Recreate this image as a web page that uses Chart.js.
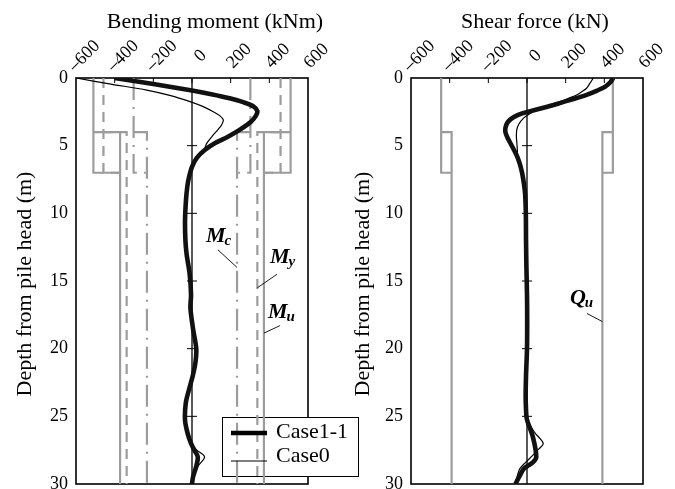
<!DOCTYPE html>
<html><head><meta charset="utf-8">
<script src="https://cdn.jsdelivr.net/npm/chart.js@4"></script>
<style>
html,body{margin:0;padding:0;background:#fff;width:675px;height:489px;overflow:hidden;}
#c1{position:absolute;left:0;top:0;}
#c2{position:absolute;left:340px;top:0;}
</style></head><body>
<canvas id="c1" width="360" height="489"></canvas>
<canvas id="c2" width="335" height="489"></canvas>
<script>
// ---------- data ----------
const xTicks = [-600, -400, -200, 0, 200, 400, 600];
const depthTicks = [0, 5, 10, 15, 20, 25, 30];
const sectionDepths = [4.0, 7.0];           // pile section change (m)
const momentCapNames = ['Mu', 'My', 'Mc'];
const momentCapUpper = [510, 458, 302];     // kNm, upper section
const momentCapLower = [372, 338, 233];     // kNm, lower section
const shearCapNames = ['Qu'];
const shearCapUpper = [444];                // kN
const shearCapLower = [390];                // kN

const momentCase11Depth = [0,0.45,0.89,1.2,1.5,1.8,2.1,2.45,2.8,3.23,3.8,4.34,4.8,5.32,5.9,6.56,7.3,8.0,9.0,10.5,12,13,14.5,16,17,18.5,20,21,22,23,24,25.3,26.3,27,27.5,28,28.7,29.5,30];
const momentCase11 = [-400,-200,-15,100,195,268,318,338,330,305,250,186,120,66,25,0,-15,-24,-31,-36,-34,-28,-12,-5,-8,5,22,18,4,-15,-32,-36,-22,-5,12,30,22,5,0];
const momentCase0Depth = [0,0.45,0.89,1.3,1.75,2.1,2.49,2.8,3.1,3.47,3.85,4.21,4.83,5.32,5.9,6.56,7.3,8.0,9.0,10.5,12,13,14.5,16,17,18.5,20,21,22,23,24,25.3,26.3,27,27.5,28,28.7,29.5,30];
const momentCase0 = [-600,-420,-234,-110,-10,55,110,145,162,153,132,110,76,62,25,0,-15,-24,-31,-36,-34,-28,-12,-5,-8,5,22,18,4,-15,-32,-36,-22,-5,25,65,30,5,0];

const shearCase11Depth = [0,0.3,0.64,0.95,1.26,1.63,1.9,2.12,2.35,2.61,2.9,3.23,3.6,3.97,4.35,4.71,5.3,5.82,6.4,7.04,7.8,8.52,10,12,14,16,18,20,22,23.5,24.5,25.2,26.5,28.0,28.4,28.85,29.4,30];
const shearCase11 = [446,432,405,360,305,222,160,105,45,-25,-70,-98,-110,-112,-103,-90,-68,-50,-36,-25,-16,-10,-6,-5,-3,0,1,0,-5,-7,-5,-1,30,48,30,-15,-38,-60];
const shearCase0Depth = [0,0.4,0.76,1.0,1.26,1.5,1.75,2.05,2.37,2.68,2.98,3.4,3.84,4.3,4.71,5.3,5.82,6.4,7.04,7.8,8.52,10,12,14,16,18,20,22,23.5,24.5,25.2,26.2,27.0,27.5,28.1,28.85,29.4,30];
const shearCase0 = [343,325,308,285,257,215,170,110,50,10,-19,-42,-53,-55,-53,-50,-48,-36,-25,-16,-10,-6,-5,-3,0,1,0,-5,-7,-5,-1,40,84,55,15,-36,-50,-62];

const seriesLabels = ['Case1-1', 'Case0'];

// ---------- helpers ----------
const SERIF = '"Liberation Serif", "Times New Roman", serif';
Chart.defaults.font.family = SERIF;
Chart.defaults.color = '#000';
const GRAY = '#9c9c9c';
const capStyle = {
  Mu: [], My: [10, 7], Mc: [22, 7, 2, 7], Qu: []
};

function pts(depths, vals) { return depths.map((d, i) => ({x: vals[i], y: d})); }

function curveSets(d11, v11, d0, v0) {
  return [
    {label: seriesLabels[0], data: pts(d11, v11), borderColor: '#111', borderWidth: 4.6, tension: 0.3},
    {label: seriesLabels[1], data: pts(d0, v0), borderColor: '#000', borderWidth: 1.2, tension: 0.3}
  ];
}

function capSets(names, upper, lower) {
  const out = [];
  const [dA, dB] = sectionDepths;
  names.forEach((n, i) => {
    [-1, 1].forEach(s => {
      const u = s * upper[i], l = s * lower[i];
      const common = {label: n, borderColor: GRAY, borderWidth: 2.2, borderDash: capStyle[n], tension: 0};
      out.push(Object.assign({data: [{x: u, y: 0}, {x: u, y: dB}, {x: l, y: dB}]}, common));
      out.push(Object.assign({data: [{x: u, y: dA}, {x: l, y: dA}, {x: l, y: depthTicks[depthTicks.length - 1]}]}, common));
    });
  });
  return out;
}

function zeroSet() {
  return {label: 'zero', data: [{x: 0, y: depthTicks[0]}, {x: 0, y: depthTicks[depthTicks.length - 1]}],
          borderColor: '#000', borderWidth: 1.3, tension: 0};
}

function tickText(v) { return v < 0 ? '\u2013' + Math.abs(v) : String(v); }

function framePlugin(o) {
  return {
    id: 'frame',
    beforeDatasetsDraw(chart) {
      const {ctx, chartArea: a, scales: {x, y}} = chart;
      ctx.save();
      ctx.strokeStyle = '#000';
      ctx.lineWidth = 1.6;
      ctx.strokeRect(a.left, a.top, a.right - a.left, a.bottom - a.top);
      ctx.lineWidth = 1;
      xTicks.slice(1, -1).forEach(v => {
        const px = x.getPixelForValue(v);
        ctx.beginPath(); ctx.moveTo(px, a.top); ctx.lineTo(px, a.top + 5); ctx.stroke();
      });
      const x0 = x.getPixelForValue(0);
      depthTicks.slice(1, -1).forEach(d => {
        const py = y.getPixelForValue(d);
        ctx.beginPath(); ctx.moveTo(x0 - 5, py); ctx.lineTo(x0 + 5, py); ctx.stroke();
      });
      if (o.legend) {
        const L = o.legend;
        ctx.fillStyle = '#fff';
        ctx.fillRect(L.x, L.y, L.w, L.h);
        ctx.lineWidth = 1;
        ctx.strokeRect(L.x + 0.5, L.y + 0.5, L.w, L.h);
      }
      ctx.restore();
    },
    afterDatasetsDraw(chart) {
      const {ctx, chartArea: a, scales: {x, y}} = chart;
      ctx.save();
      ctx.fillStyle = '#000';
      ctx.strokeStyle = '#000';
      // rotated top tick labels
      ctx.font = '18px ' + SERIF;
      ctx.textAlign = 'center';
      ctx.textBaseline = 'middle';
      xTicks.forEach(v => {
        ctx.save();
        ctx.translate(x.getPixelForValue(v) + 8.5, a.top - 22);
        ctx.rotate(-Math.PI / 4);
        ctx.fillText(tickText(v), 0, 0);
        ctx.restore();
      });
      // title
      ctx.font = '22px ' + SERIF;
      ctx.textAlign = 'center';
      ctx.textBaseline = 'alphabetic';
      ctx.fillText(o.title, o.titleX, 28);
      // y title
      ctx.save();
      ctx.translate(o.yTitleX, (a.top + a.bottom) / 2 + 3);
      ctx.rotate(-Math.PI / 2);
      ctx.textBaseline = 'middle';
      ctx.fillText('Depth from pile head (m)', 0, 0);
      ctx.restore();
      // annotations
      o.notes.forEach(n => {
        const tx = x.getPixelForValue(n.tx), ty = y.getPixelForValue(n.ty);
        ctx.textAlign = 'left';
        ctx.font = 'bold italic 22px ' + SERIF;
        ctx.fillText(n.main, tx, ty);
        const w = ctx.measureText(n.main).width;
        ctx.font = 'bold italic 15px ' + SERIF;
        ctx.fillText(n.sub, tx + w - 1, ty + 3);
        ctx.lineWidth = 0.9;
        ctx.beginPath();
        ctx.moveTo(x.getPixelForValue(n.l1[0]), y.getPixelForValue(n.l1[1]));
        ctx.lineTo(x.getPixelForValue(n.l2[0]), y.getPixelForValue(n.l2[1]));
        ctx.stroke();
      });
      // legend contents
      if (o.legend) {
        const L = o.legend;
        const ds = chart.data.datasets;
        ctx.font = '22px ' + SERIF;
        ctx.textAlign = 'left';
        ctx.textBaseline = 'alphabetic';
        [0, 1].forEach(i => {
          const ly = L.y + (i === 0 ? 16 : 44);
          ctx.lineWidth = ds[i].borderWidth;
          ctx.beginPath(); ctx.moveTo(L.x + 9, ly); ctx.lineTo(L.x + 45, ly); ctx.stroke();
          ctx.fillText(ds[i].label, L.x + 54, L.y + (i === 0 ? 21 : 45));
        });
      }
      ctx.restore();
    }
  };
}

function makeChart(id, datasets, padRight, yWidth, plugOpts) {
  return new Chart(document.getElementById(id), {
    type: 'scatter',
    data: {datasets},
    options: {
      responsive: false,
      animation: false,
      showLine: true,
      elements: {point: {radius: 0, hoverRadius: 0}, line: {fill: false}},
      layout: {padding: {left: 0, top: 0, right: padRight, bottom: 5}},
      plugins: {legend: {display: false}, tooltip: {enabled: false}, title: {display: false}},
      scales: {
        x: {
          type: 'linear', position: 'top', min: xTicks[0], max: xTicks[xTicks.length - 1],
          afterBuildTicks: s => { s.ticks = xTicks.map(v => ({value: v})); },
          afterFit: s => { s.height = 78; s.paddingLeft = 0; s.paddingRight = 0; s.paddingTop = 0; s.paddingBottom = 0; },
          grid: {display: false, drawTicks: false},
          border: {display: false},
          ticks: {display: false}
        },
        y: {
          type: 'linear', reverse: true, min: depthTicks[0], max: depthTicks[depthTicks.length - 1],
          afterBuildTicks: s => { s.ticks = depthTicks.map(v => ({value: v})); },
          afterFit: s => { s.width = yWidth; s.paddingTop = 0; s.paddingBottom = 0; s.paddingLeft = 0; s.paddingRight = 0; },
          grid: {display: false, drawTicks: false},
          border: {display: false},
          ticks: {padding: 8, font: {size: 18, family: SERIF}, color: '#000'}
        }
      }
    },
    plugins: [framePlugin(plugOpts)]
  });
}

// ---------- charts ----------
makeChart('c1',
  curveSets(momentCase11Depth, momentCase11, momentCase0Depth, momentCase0)
    .concat([zeroSet()], capSets(momentCapNames, momentCapUpper, momentCapLower)),
  52, 76,
  {
    title: 'Bending moment (kNm)', titleX: 215, yTitleX: 25,
    legend: {x: 222, y: 417, w: 136, h: 59},
    notes: [
      {main: 'M', sub: 'c', tx: 72, ty: 12.1, l1: [134, 12.7], l2: [momentCapLower[2], 14.0]},
      {main: 'M', sub: 'y', tx: 403, ty: 13.7, l1: [440, 14.5], l2: [momentCapLower[1], 15.5]},
      {main: 'M', sub: 'u', tx: 393, ty: 17.7, l1: [455, 18.3], l2: [momentCapLower[0], 18.85]}
    ]
  });

makeChart('c2',
  curveSets(shearCase11Depth, shearCase11, shearCase0Depth, shearCase0)
    .concat([zeroSet()], capSets(shearCapNames, shearCapUpper, shearCapLower)),
  32, 71,
  {
    title: 'Shear force (kN)', titleX: 195, yTitleX: 23,
    legend: null,
    notes: [
      {main: 'Q', sub: 'u', tx: 222, ty: 16.7, l1: [310, 17.4], l2: [shearCapLower[0], 18.0]}
    ]
  });
</script>
</body></html>
